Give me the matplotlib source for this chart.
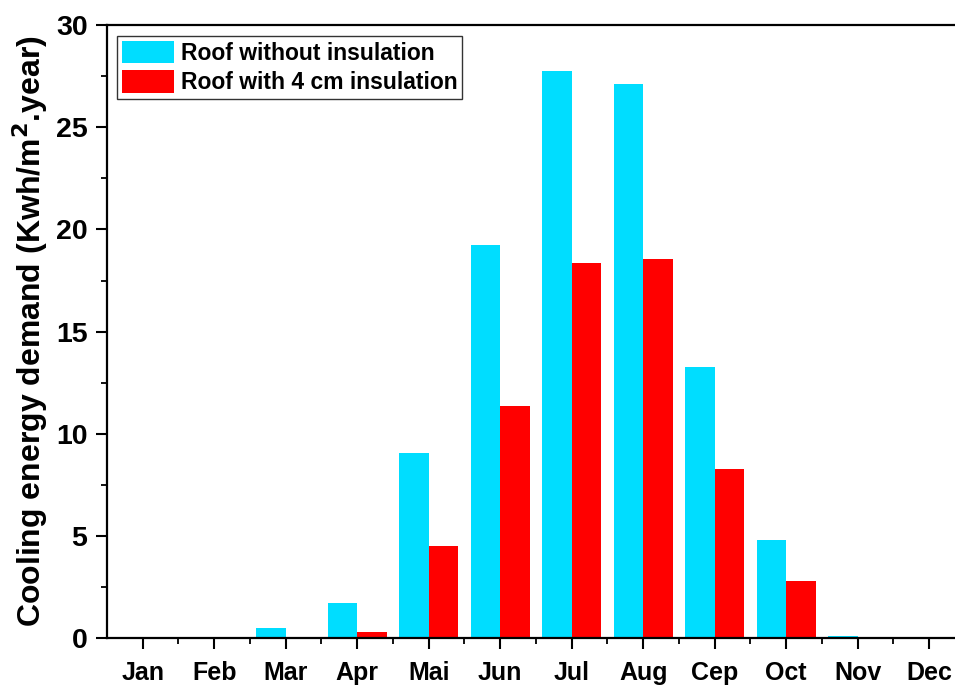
import numpy as np
import matplotlib
matplotlib.use('Agg')
import matplotlib.pyplot as plt
from matplotlib.ticker import MultipleLocator, FixedLocator

plt.rcParams['font.family'] = ['Liberation Sans', 'DejaVu Sans']
plt.rcParams['font.weight'] = 'bold'

# Monthly cooling demand, kWh/m2.year
months = ['Jan', 'Feb', 'Mar', 'Apr', 'Mai', 'Jun', 'Jul', 'Aug', 'Cep', 'Oct', 'Nov', 'Dec']
no_insulation = [0, 0, 0.52, 1.74, 9.05, 19.24, 27.75, 27.1, 13.29, 4.79, 0.11, 0]
insulation_4cm = [0, 0, 0, 0.29, 4.52, 11.38, 18.35, 18.56, 8.30, 2.82, 0, 0]

x = np.arange(1, len(months) + 1)
w = 0.41

fig = plt.figure(figsize=(9.55, 6.86), dpi=100)
ax = fig.add_axes([0.1120, 0.0695, 0.8984, 0.8941])

ax.bar(x - w / 2, no_insulation, width=w, color='#00DDFF', label='Roof without insulation')
ax.bar(x + w / 2, insulation_4cm, width=w, color='#FF0000', label='Roof with 4 cm insulation')

ax.set_xlim(0.5, 12.5)
ax.set_ylim(0, 30)
ax.set_xticks(x)
ax.set_xticklabels(months)
ax.xaxis.set_minor_locator(FixedLocator(np.arange(1.5, 12.6, 1)))
ax.yaxis.set_major_locator(MultipleLocator(5))
ax.yaxis.set_minor_locator(MultipleLocator(2.5))

for s in ax.spines.values():
    s.set_linewidth(1.6)
ax.tick_params(which='major', direction='out', length=8, width=1.5, labelsize=20.5, pad=6)
ax.tick_params(which='minor', direction='out', length=4.5, width=1.3)
ax.tick_params(axis='x', which='major', labelsize=18, pad=8)

ax.set_ylabel('Cooling energy demand (Kwh/m$^\\mathbf{2}$.year)', fontsize=23, fontweight='bold')
ax.yaxis.set_label_coords(-0.066, 0.50)

leg = ax.legend(loc='upper left', bbox_to_anchor=(0.012, 0.982), borderaxespad=0,
                fontsize=16.5, frameon=True, fancybox=False, edgecolor='black',
                handlelength=2.27, handleheight=1.13, handletextpad=0.3,
                labelspacing=0.25, borderpad=0.2)
leg.get_frame().set_linewidth(1.0)

fig.savefig('out.png', dpi=100)
